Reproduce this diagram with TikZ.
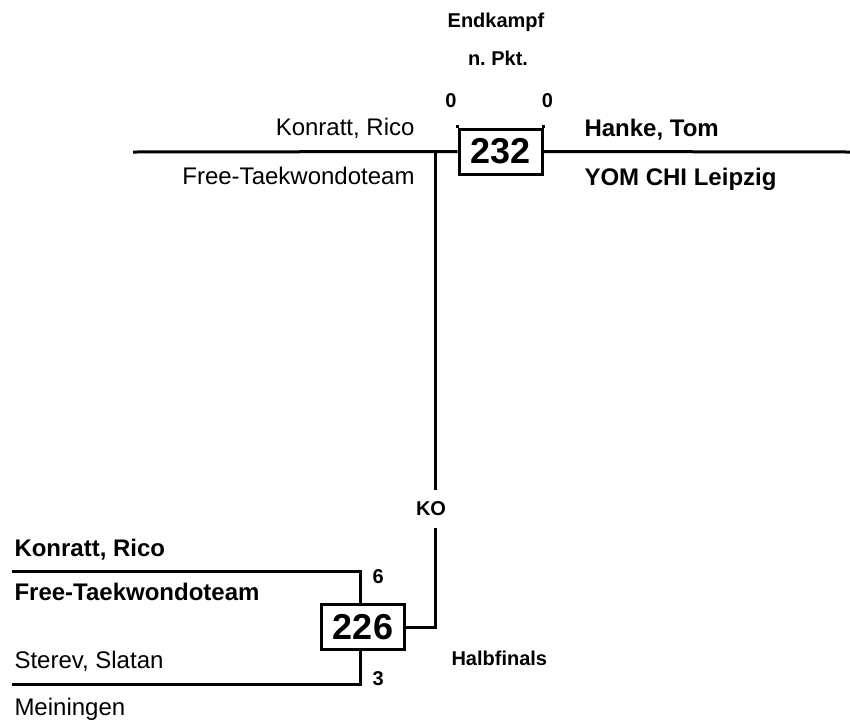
\documentclass[tikz,border=0pt]{standalone}
\usepackage{fontspec}
\setmainfont{Liberation Sans}

\tikzset{
    fight/.style={draw, fill=white, line width=1.5pt, inner sep=0pt,
        minimum width=41.5pt, minimum height=22.5pt,
        font=\fontsize{18}{20}\selectfont\bfseries},
    entrant/.style={inner sep=0pt, font=\fontsize{12}{14}\selectfont},
    winner/.style={entrant, font=\fontsize{12}{14}\selectfont\bfseries},
    tag/.style={inner sep=0pt, font=\fontsize{10}{12}\selectfont\bfseries},
}

\begin{document}
\begin{tikzpicture}[x=0.5pt, y=-0.5pt, line width=1.5pt]
    \useasboundingbox (0, 0) rectangle (850, 724);

    \node [fight] (final) at (500.5, 151.5) {232};
    \node [fight] (semi) at (363, 627) {226};

    \coordinate (finalleft) at (133, 152);
    \coordinate (finalright) at (850, 152);
    \coordinate (drop) at (435, 152);
    \coordinate (semitop) at (12, 571);
    \coordinate (semibot) at (12, 684);
    \coordinate (semijoin) at (360, 600);

    \node [tag, anchor=base] (ko) at (431, 515) {KO};
    \node [tag, anchor=base] (round) at (496, 27) {Endkampf};
    \node [tag, anchor=base] (mode) at (498, 65) {n.\ Pkt.};
    \node [tag, anchor=base] (ptleft) at (451, 107) {0};
    \node [tag, anchor=base] (ptright) at (547.5, 107) {0};
    \node [tag, anchor=base west] (ptup) at (371, 583) {6};
    \node [tag, anchor=base west] (ptdown) at (371, 685) {3};
    \node [tag, anchor=base west] (stage) at (450, 665) {Halbfinals};

    \node [entrant, anchor=base east] (redname) at (416, 135) {Konratt, Rico};
    \node [entrant, anchor=base east] (redclub) at (416, 184) {Free-Taekwondoteam};
    \node [winner, anchor=base west] (bluename) at (583, 136) {Hanke, Tom};
    \node [winner, anchor=base west] (blueclub) at (583, 185) {YOM CHI Leipzig};
    \node [winner, anchor=base west] (upname) at (13, 556) {Konratt, Rico};
    \node [winner, anchor=base west] (upclub) at (13, 600) {Free-Taekwondoteam};
    \node [entrant, anchor=base west] (downname) at (13, 668) {Sterev, Slatan};
    \node [entrant, anchor=base west] (downclub) at (13, 715) {Meiningen};

    \draw (finalleft) -- (final.west);
    \draw (final.east) -- (finalright);
    \draw (final.north west) -- ++(0, -3);
    \draw (final.north east) -- ++(0, -3);
    \draw (drop) -- (drop |- 0, 490);
    \draw (drop |- 0, 528) -- (drop |- semi.east) -- (semi.east);
    \draw (semitop) -- (semijoin |- semitop) -- (semijoin |- semi.north);
    \draw (semibot) -- (semijoin |- semibot) -- (semijoin |- semi.south);
\end{tikzpicture}
\end{document}
